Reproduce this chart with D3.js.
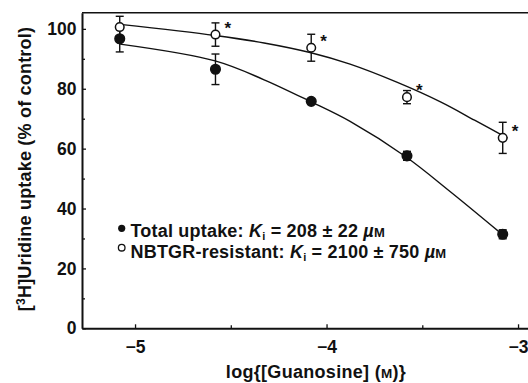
<!DOCTYPE html>
<html>
<head>
<meta charset="utf-8">
<script src="https://cdn.jsdelivr.net/npm/d3@7"></script>
<style>
  body { margin: 0; background: #fff; }
  text { font-family: "Liberation Sans", Arial, sans-serif; font-weight: bold; fill: #111; }
</style>
</head>
<body>
<div class="chart"></div>
<script>
// log concentration of guanosine for each measured point
var logConc = [-5.08, -4.58, -4.08, -3.58, -3.08];

// total uptake (filled circles)
var totalMean = [96.7, 86.5, 75.8, 57.6, 31.4];
var totalErr = [4.4, 5.1, 0.8, 1.5, 1.5];

// NBTGR-resistant (open circles)
var resistMean = [100.6, 98.1, 93.7, 77.2, 63.6];
var resistErr = [3.6, 3.9, 4.5, 2.2, 5.2];
var resistStar = [false, true, true, true, true];

// fitted curves
var totalFitX = [-5.078, -4.582, -4.326, -4.086, -3.877, -3.586, -3.355, -3.089];
var totalFitY = [94.9, 89.3, 83.0, 75.8, 69.1, 57.3, 45.7, 31.7];
var resistFitX = [-5.078, -4.582, -4.326, -4.086, -3.877, -3.630, -3.405, -3.227, -3.055];
var resistFitY = [101.5, 97.8, 95.3, 92.1, 88.2, 82.1, 75.6, 69.5, 63.5];

var xMajor = [-5, -4, -3];
var xMinor = [-4.5, -3.5];
var yMajor = [0, 20, 40, 60, 80, 100];
var yMinor = [10, 30, 50, 70, 90];

var svgWidth = 528;
var svgHeight = 383;

var svg = d3.select(".chart")
  .append("svg")
  .attr("width", svgWidth)
  .attr("height", svgHeight);

var x = d3.scaleLinear().domain([-5.277, -2.948]).range([82, 528]);
var y = d3.scaleLinear().domain([0, 105.4]).range([328.3, 12.7]);

// top frame line
svg.append("line")
  .attr("x1", x.range()[0]).attr("x2", x.range()[1])
  .attr("y1", y.range()[1]).attr("y2", y.range()[1])
  .attr("stroke", "#111").attr("stroke-width", 1.6);

// minor ticks first, no labels
svg.append("g")
  .attr("transform", "translate(0," + y(0) + ")")
  .call(d3.axisBottom(x).tickValues(xMinor).tickSizeInner(-3).tickSizeOuter(0).tickFormat(""))
  .call(function(g) { g.select(".domain").remove(); });
svg.append("g")
  .attr("transform", "translate(" + x.range()[0] + ",0)")
  .call(d3.axisLeft(y).tickValues(yMinor).tickSizeInner(-3).tickSizeOuter(0).tickFormat(""))
  .call(function(g) { g.select(".domain").remove(); });

var xAxis = svg.append("g")
  .attr("transform", "translate(0," + y(0) + ")")
  .call(d3.axisBottom(x).tickValues(xMajor).tickSizeInner(-4).tickSizeOuter(0)
    .tickPadding(12.3).tickFormat(d3.format("d")));

var yAxis = svg.append("g")
  .attr("transform", "translate(" + x.range()[0] + ",0)")
  .call(d3.axisLeft(y).tickValues(yMajor).tickSizeInner(-4).tickSizeOuter(0)
    .tickPadding(5.5).tickFormat(d3.format("d")));

svg.selectAll(".tick line").attr("stroke", "#111").attr("stroke-width", 1.3);
svg.selectAll(".domain").attr("stroke", "#111").attr("stroke-width", 2);
svg.selectAll(".tick text")
  .attr("font-size", "17.5px")
  .attr("font-family", "Liberation Sans, Arial, sans-serif")
  .attr("font-weight", "bold")
  .attr("fill", "#111");

// fitted curves
var line = d3.line()
  .x(function(d) { return x(d[0]); })
  .y(function(d) { return y(d[1]); })
  .curve(d3.curveCatmullRom.alpha(0.5));

svg.append("path")
  .datum(d3.zip(totalFitX, totalFitY))
  .attr("d", line)
  .attr("fill", "none").attr("stroke", "#111").attr("stroke-width", 1.4);

svg.append("path")
  .datum(d3.zip(resistFitX, resistFitY))
  .attr("d", line)
  .attr("fill", "none").attr("stroke", "#111").attr("stroke-width", 1.4);

function drawSeries(means, errs, filled) {
  var data = logConc.map(function(lx, i) {
    return { x: lx, m: means[i], e: errs[i] };
  });
  var g = svg.append("g");
  var bars = g.selectAll(".err").data(data).enter().append("g");
  bars.append("line")
    .attr("x1", function(d) { return x(d.x); })
    .attr("x2", function(d) { return x(d.x); })
    .attr("y1", function(d) { return y(d.m - d.e); })
    .attr("y2", function(d) { return y(d.m + d.e); });
  bars.append("line")
    .attr("x1", function(d) { return x(d.x) - 4; })
    .attr("x2", function(d) { return x(d.x) + 4; })
    .attr("y1", function(d) { return y(d.m + d.e); })
    .attr("y2", function(d) { return y(d.m + d.e); });
  bars.append("line")
    .attr("x1", function(d) { return x(d.x) - 4; })
    .attr("x2", function(d) { return x(d.x) + 4; })
    .attr("y1", function(d) { return y(d.m - d.e); })
    .attr("y2", function(d) { return y(d.m - d.e); });
  bars.selectAll("line").attr("stroke", "#111").attr("stroke-width", 1.4);

  g.selectAll("circle").data(data).enter().append("circle")
    .attr("cx", function(d) { return x(d.x); })
    .attr("cy", function(d) { return y(d.m); })
    .attr("r", filled ? 4.8 : 4.3)
    .attr("fill", filled ? "#111" : "#fff")
    .attr("stroke", "#111")
    .attr("stroke-width", 1.5);
}

drawSeries(totalMean, totalErr, true);
drawSeries(resistMean, resistErr, false);

// significance stars next to the open circles
svg.selectAll(".star")
  .data(logConc.filter(function(d, i) { return resistStar[i]; }).map(function(lx) {
    var i = logConc.indexOf(lx);
    return { x: lx, m: resistMean[i] };
  }))
  .enter().append("text")
  .attr("x", function(d) { return x(d.x) + 9; })
  .attr("y", function(d) { return y(d.m) - 1; })
  .attr("font-size", "17px")
  .text("*");

// legend
var legend = svg.append("g");
legend.append("circle").attr("cx", 121.7).attr("cy", 228.3).attr("r", 3.6).attr("fill", "#111");
legend.append("circle").attr("cx", 121.7).attr("cy", 247.7).attr("r", 3.3)
  .attr("fill", "#fff").attr("stroke", "#111").attr("stroke-width", 1.3);

function legendText(yPos, label, ki) {
  var t = legend.append("text").attr("x", 130.5).attr("y", yPos)
    .attr("font-size", "18px").attr("letter-spacing", "0.2px");
  t.append("tspan").text(label + " ");
  t.append("tspan").attr("font-style", "italic").text("K");
  t.append("tspan").attr("font-size", "11px").attr("dy", 3).text("i");
  t.append("tspan").attr("dy", -3).text(" = " + ki + " ");
  t.append("tspan").attr("font-style", "italic").text("\u00b5");
  t.append("tspan").attr("font-size", "13px").text("M");
}
legendText(237.3, "Total uptake:", "208 \u00b1 22");
legendText(257.7, "NBTGR-resistant:", "2100 \u00b1 750");

// axis titles
var xt = svg.append("text")
  .attr("x", 316).attr("y", 378)
  .attr("text-anchor", "middle")
  .attr("font-size", "18px").attr("letter-spacing", "0.3px");
xt.append("tspan").text("log{[Guanosine] (");
xt.append("tspan").attr("font-size", "13.5px").text("M");
xt.append("tspan").text(")}");

var yt = svg.append("text")
  .attr("transform", "translate(30.5,169) rotate(-90)")
  .attr("text-anchor", "middle")
  .attr("font-size", "18px").attr("letter-spacing", "0.2px");
yt.append("tspan").text("[");
yt.append("tspan").attr("font-size", "12px").attr("dy", -6).text("3");
yt.append("tspan").attr("dy", 6).text("H]Uridine uptake (% of control)");
</script>
</body>
</html>
